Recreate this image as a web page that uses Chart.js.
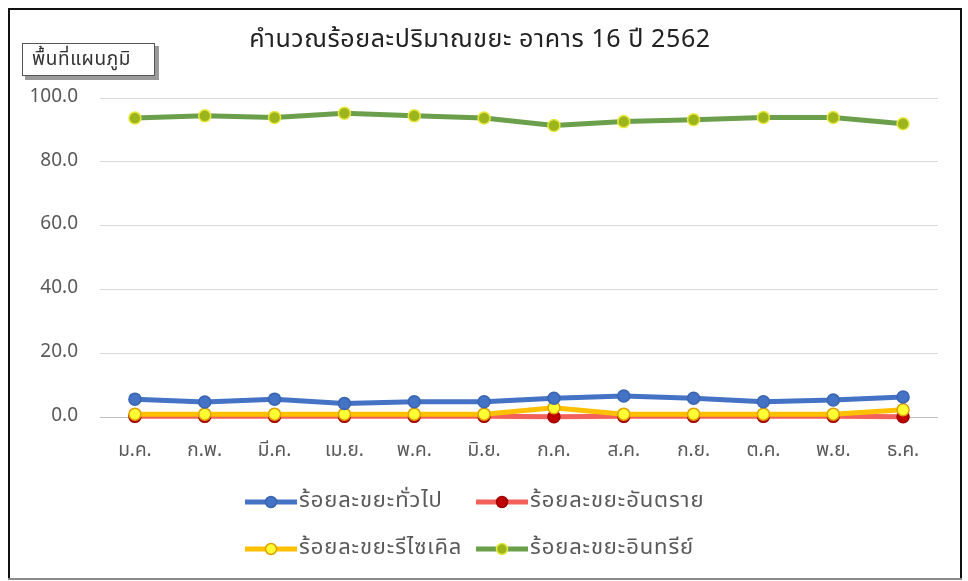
<!DOCTYPE html>
<html>
<head>
<meta charset="utf-8">
<script src="https://cdn.jsdelivr.net/npm/chart.js@4.4.1/dist/chart.umd.min.js"></script>
<style>
  html, body { margin: 0; padding: 0; background: #fff; }
  #wrap { position: relative; width: 968px; height: 581px; }
</style>
</head>
<body>
<div id="wrap"><canvas id="chart" width="968" height="581"></canvas></div>
<script>
// ข้อมูลจากกราฟ อาคาร 16 ปี 2562
const months = ['ม.ค.', 'ก.พ.', 'มี.ค.', 'เม.ย.', 'พ.ค.', 'มิ.ย.', 'ก.ค.', 'ส.ค.', 'ก.ย.', 'ต.ค.', 'พ.ย.', 'ธ.ค.'];
const generalWaste   = [5.6, 4.7, 5.6, 4.2, 4.8, 4.8, 5.9, 6.6, 5.9, 4.8, 5.3, 6.3];
const hazardousWaste = [0.2, 0.2, 0.2, 0.2, 0.2, 0.2, 0.1, 0.2, 0.2, 0.2, 0.2, 0.1];
const recycleWaste   = [0.9, 0.9, 0.9, 0.9, 0.9, 0.9, 2.9, 0.9, 0.9, 0.9, 0.9, 2.3];
const organicWaste   = [93.7, 94.4, 93.9, 95.2, 94.4, 93.7, 91.4, 92.6, 93.2, 93.9, 93.9, 91.9];
const yTicks = [0, 20, 40, 60, 80, 100];

const chartTitle = 'คำนวณร้อยละปริมาณขยะ อาคาร 16 ปี 2562';
const areaLabel = 'พื้นที่แผนภูมิ';
const thaiFont = "Tahoma, 'Leelawadee UI', 'Noto Sans Thai', 'Noto Sans', sans-serif";

const series = [
    { label: 'ร้อยละขยะทั่วไป', data: generalWaste, line: '#4472C4', fill: '#4472C4', border: '#3A64B0', order: 1 },
    { label: 'ร้อยละขยะอันตราย', data: hazardousWaste, line: '#F2625A', fill: '#C00000', border: '#A00000', order: 3 },
    { label: 'ร้อยละขยะรีไซเคิล', data: recycleWaste, line: '#FFC000', fill: '#FFFF33', border: '#E0A000', order: 2 },
    { label: 'ร้อยละขยะอินทรีย์', data: organicWaste, line: '#6C9F4B', fill: '#9DB51C', border: '#E8E840', order: 0 }
];

// กรอบ ชื่อกราฟ ป้าย และคำอธิบายสัญลักษณ์
const decorations = {
    id: 'decorations',
    afterLayout(chart) {
        // เดือนบนแกน x ให้ตัวอักษรห่างกันเล็กน้อย
        const xs = chart.scales.x;
        if (xs._spaced) return;
        const draw = xs.draw.bind(xs);
        xs.draw = area => {
            chart.ctx.save();
            chart.ctx.letterSpacing = '1.5px';
            draw(area);
            chart.ctx.restore();
        };
        xs._spaced = true;
    },
    beforeDraw(chart) {
        const ctx = chart.ctx;
        ctx.fillStyle = '#fff';
        ctx.fillRect(0, 0, chart.width, chart.height);
    },
    afterDraw(chart) {
        const ctx = chart.ctx;
        ctx.save();
        // frame
        ctx.lineWidth = 2;
        ctx.strokeStyle = '#111';
        ctx.beginPath();
        ctx.moveTo(9, 579); ctx.lineTo(9, 9); ctx.lineTo(961, 9); ctx.lineTo(961, 579);
        ctx.stroke();
        ctx.strokeStyle = '#8a8a8a';
        ctx.beginPath();
        ctx.moveTo(8, 579); ctx.lineTo(962, 579);
        ctx.stroke();

        // title
        ctx.fillStyle = '#222';
        ctx.font = '25px ' + thaiFont;
        ctx.letterSpacing = '0.6px';
        ctx.textAlign = 'center';
        ctx.textBaseline = 'middle';
        ctx.fillText(chartTitle, 480, 42);

        // chart-area label box with shadow
        ctx.fillStyle = '#9a9a9a';
        ctx.fillRect(25, 46, 134, 34);
        ctx.fillStyle = '#fff';
        ctx.fillRect(22, 43, 133, 33);
        ctx.lineWidth = 1;
        ctx.strokeStyle = '#555';
        ctx.strokeRect(22.5, 43.5, 132, 32);
        ctx.fillStyle = '#333';
        ctx.font = '19px ' + thaiFont;
        ctx.letterSpacing = '0.6px';
        ctx.textAlign = 'left';
        ctx.fillText(areaLabel, 32, 61);

        // legend, 2 x 2
        const slots = [[245, 502], [476, 502], [245, 549], [476, 549]];
        ctx.font = '22px ' + thaiFont;
        ctx.letterSpacing = '0.9px';
        ctx.textBaseline = 'middle';
        chart.data.datasets.forEach((ds, i) => {
            const [x, y] = slots[i];
            ctx.strokeStyle = ds.borderColor;
            ctx.lineWidth = 5;
            ctx.beginPath();
            ctx.moveTo(x, y); ctx.lineTo(x + 52, y);
            ctx.stroke();
            ctx.beginPath();
            ctx.arc(x + 26, y, 5.5, 0, Math.PI * 2);
            ctx.fillStyle = ds.pointBackgroundColor;
            ctx.fill();
            ctx.lineWidth = 1.5;
            ctx.strokeStyle = ds.pointBorderColor;
            ctx.stroke();
            ctx.fillStyle = '#595959';
            ctx.fillText(ds.label, x + 54, y + 1);
        });
        ctx.restore();
    }
};

new Chart(document.getElementById('chart'), {
    type: 'line',
    data: {
        labels: months,
        datasets: series.map(s => ({
            label: s.label,
            data: s.data,
            borderColor: s.line,
            borderWidth: 5,
            pointRadius: 6,
            pointBorderWidth: 1.5,
            pointBackgroundColor: s.fill,
            pointBorderColor: s.border,
            tension: 0,
            order: s.order,
            clip: false
        }))
    },
    options: {
        responsive: false,
        animation: false,
        events: [],
        layout: { padding: { left: 0, right: 30, top: 98, bottom: 114 } },
        plugins: {
            legend: { display: false },
            title: { display: false },
            tooltip: { enabled: false }
        },
        scales: {
            x: {
                offset: true,
                grid: { display: false, drawTicks: false },
                border: { display: false },
                ticks: { color: '#595959', font: { size: 19, family: thaiFont }, padding: 24 },
                afterFit: scale => { scale.height = 50; }
            },
            y: {
                min: 0,
                max: 100,
                afterBuildTicks: scale => { scale.ticks = yTicks.map(v => ({ value: v })); },
                grid: {
                    drawTicks: false,
                    color: ctx => ctx.tick && ctx.tick.value === 0 ? '#BFBFBF' : '#D9D9D9',
                    lineWidth: 1
                },
                border: { display: false },
                ticks: {
                    color: '#595959',
                    font: { size: 19, family: thaiFont },
                    padding: 22,
                    callback: v => Number(v).toFixed(1)
                },
                afterFit: scale => { scale.width = 100; }
            }
        }
    },
    plugins: [decorations]
});
</script>
</body>
</html>
